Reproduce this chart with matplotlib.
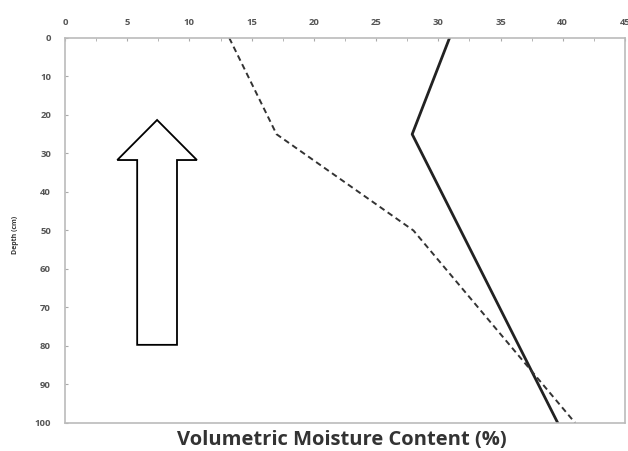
import numpy as np
import matplotlib.pyplot as plt
from matplotlib.patches import FancyArrow

# soil moisture profiles
depth_solid = [0, 25, 100]
vmc_solid = [30.9, 27.9, 39.6]

depth_dash = [0, 25, 50, 100]
vmc_dash = [13.2, 17.0, 28.0, 41.0]

x_ticks = np.arange(0, 46, 5)
y_ticks = np.arange(0, 101, 10)

plt.rcParams['font.family'] = ['Open Sans', 'DejaVu Sans']

fig = plt.figure(figsize=(6.28, 4.51), dpi=100)
ax = fig.add_axes([0.1035, 0.0621, 0.8917, 0.8537])

ax.plot(vmc_solid, depth_solid, color='#222222', lw=2.0)
ax.plot(vmc_dash, depth_dash, color='#333333', lw=1.4, dashes=(3, 2))

# hollow up arrow
arrow = FancyArrow(7.4, 79.7, 0, -58.4, width=3.2, head_width=6.4,
                   head_length=10.4, length_includes_head=True,
                   fill=False, ec='black', lw=1.3)
ax.add_patch(arrow)

ax.set_xlim(0, 45)
ax.set_ylim(100, 0)
ax.xaxis.tick_top()
ax.set_xticks(x_ticks)
ax.set_xticks(np.arange(0, 45, 2.5), minor=True)
ax.set_yticks(y_ticks)
ax.tick_params(axis='both', which='both', direction='in', length=2,
               color='#aaaaaa', labelsize=6.8, labelcolor='#555555')
ax.tick_params(axis='x', pad=8)
ax.tick_params(axis='y', pad=10)
for lab in ax.get_xticklabels() + ax.get_yticklabels():
    lab.set_fontweight('bold')
for s in ax.spines.values():
    s.set_color('#bbbbbb')
    s.set_linewidth(1.2)

fig.text(0.025, 0.48, 'Depth (cm)', rotation=90, fontsize=5, fontweight='bold',
         color='#333333', ha='center', va='center')
fig.text(0.545, 0.024, 'Volumetric Moisture Content (%)', fontsize=14.5,
         fontweight='bold', color='#333333', ha='center', va='center')

fig.savefig('out.png', dpi=100)
